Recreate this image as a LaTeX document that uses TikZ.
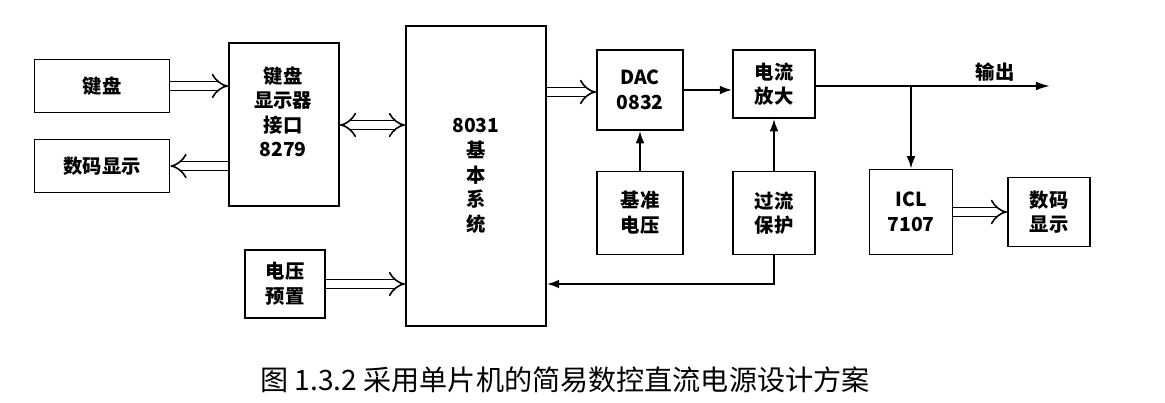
\documentclass[tikz,border=0pt]{standalone}
\usepackage{fontspec}
\setmainfont{Noto Sans CJK SC}
\newfontfamily\capfont{Noto Sans CJK SC}
\usetikzlibrary{arrows.meta}
\begin{document}
\begin{tikzpicture}[x=0.02cm,y=-0.02cm,
 txt/.style={inner sep=0pt,align=center,font=\bfseries\fontsize{11}{14}\selectfont},
 blk/.style={txt,draw,line width=1.1pt},
 thin/.style={line width=1.1pt,-{Latex[length=7pt,width=5pt]}},
 hol/.style={double,double distance=4pt,line width=0.9pt,-{Implies}},
 hol2/.style={double,double distance=4pt,line width=0.9pt,{Implies}-{Implies}}]
\useasboundingbox (0,0) rectangle (1165,402);
\node[blk,minimum width=2.7cm,minimum height=1.06cm] (kb) at (102,86) {键盘};
\node[blk,minimum width=2.7cm,minimum height=1.06cm] (dl) at (102,166) {数码显示};
\node[blk,minimum width=2.2cm,minimum height=3.26cm,anchor=north west] (if) at (228,42) {};
\node[txt,anchor=north] (ift) at (283,66) {键盘\\显示器\\接口\\8279};
\node[blk,minimum width=2.8cm,minimum height=6cm,anchor=north west] (cpu) at (405,25) {8031\\基\\本\\系\\统};
\node[blk,minimum width=1.6cm,minimum height=1.36cm] (vp) at (285,284) {电压\\预置};
\node[blk,minimum width=1.72cm,minimum height=1.6cm] (dac) at (640,90) {DAC\\0832};
\node[blk,minimum width=1.64cm,minimum height=1.36cm] (amp) at (774,84) {电流\\放大};
\node[blk,minimum width=1.72cm,minimum height=1.66cm] (ref) at (640,213) {基准\\电压};
\node[blk,minimum width=1.64cm,minimum height=1.66cm] (ocp) at (774,213) {过流\\保护};
\node[blk,minimum width=1.66cm,minimum height=1.7cm] (icl) at (911,212) {ICL\\7107};
\node[blk,minimum width=1.64cm,minimum height=1.38cm] (dr) at (1049,212) {数码\\显示};
\coordinate (out) at (1050,86);
\node[font=\bfseries\fontsize{11}{14}\selectfont] (outl) at (995,72) {输出};
\draw[hol] (kb.east) -- (kb.east -| if.west);
\draw[hol] (dl.east -| if.west) -- (dl.east);
\draw[hol2] (if.east |- 0,125) -- (cpu.west |- 0,125);
\draw[hol] (vp.east) -- (vp.east -| cpu.west);
\draw[hol] (cpu.east |- 0,92) -- (dac.west |- 0,92);
\draw[hol] (icl.east) -- (dr.west);
\draw[thin] (dac.east |- 0,90) -- (amp.west |- 0,90);
\draw[line width=1.1pt,-{Latex[length=8pt,width=5pt]}] (amp.east |- out) -- (out);
\draw[thin] (911,86) -- (icl.north);
\draw[thin] (ref.north) -- (dac.south);
\draw[thin] (ocp.north) -- (amp.south);
\draw[thin] (ocp.south) |- (cpu.east |- 0,284);
\node[font=\capfont\fontsize{16}{18}\selectfont] (cap) at (565,380) {图 1.3.2 采用单片机的简易数控直流电源设计方案};
\end{tikzpicture}
\end{document}
